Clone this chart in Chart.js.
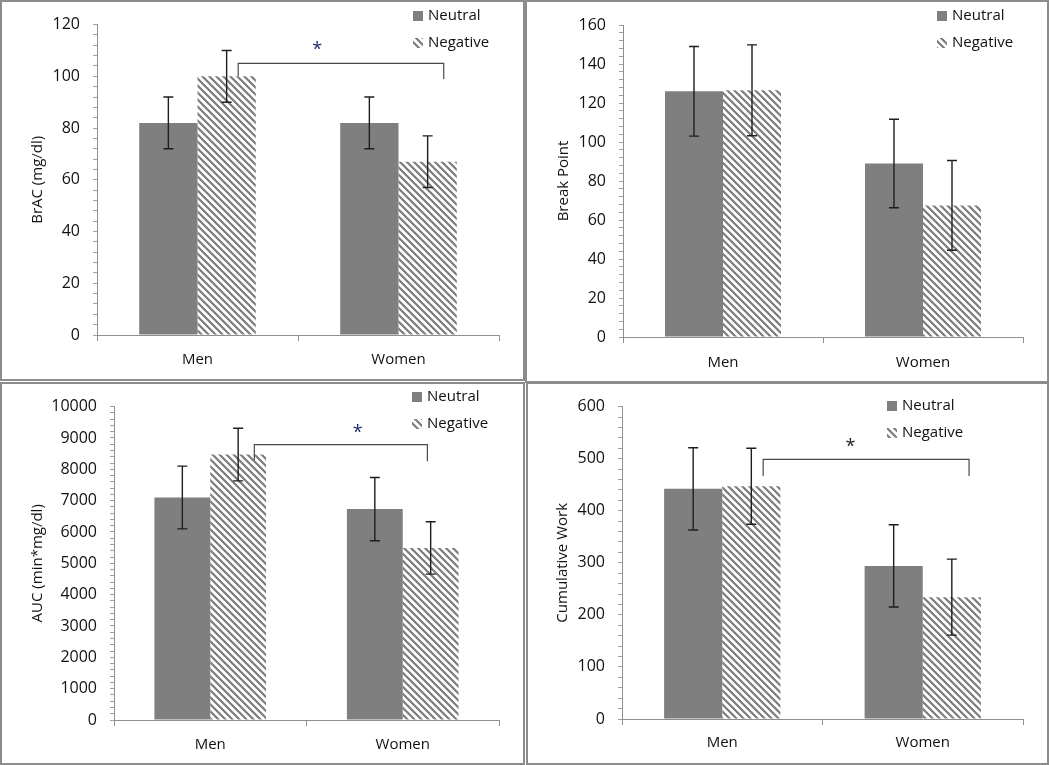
<!DOCTYPE html>
<html><head><meta charset="utf-8">
<script src="https://cdn.jsdelivr.net/npm/chart.js@4.4.1/dist/chart.umd.min.js"></script>
<style>
html,body{margin:0;padding:0;background:#fff;width:1050px;height:765px;overflow:hidden}
.panel{position:absolute;box-sizing:border-box;border:2px solid #8c8c8c;background:#fff}
.panel canvas{display:block}
</style></head><body>
<div class="panel" style="left:0;top:0;width:525px;height:381px"><canvas id="c1" width="521" height="377"></canvas></div>
<div class="panel" style="left:525px;top:0;width:524px;height:383px"><canvas id="c2" width="520" height="379"></canvas></div>
<div class="panel" style="left:0;top:382px;width:525px;height:383px"><canvas id="c3" width="521" height="379"></canvas></div>
<div class="panel" style="left:526px;top:382px;width:523px;height:383px"><canvas id="c4" width="519" height="379"></canvas></div>
<script>
// ---- data ----
const categories = ['Men', 'Women'];
const seriesNames = ['Neutral', 'Negative'];

const bracNeutral = [82, 82];
const bracNegative = [100, 67];
const bracNeutralErr = [10, 10];
const bracNegativeErr = [10, 10];
const bracTicks = [0, 20, 40, 60, 80, 100, 120];

const bpNeutral = [126, 89];
const bpNegative = [126.5, 67.5];
const bpNeutralErr = [23, 22.7];
const bpNegativeErr = [23.3, 23];
const bpTicks = [0, 20, 40, 60, 80, 100, 120, 140, 160];

const aucNeutral = [7100, 6730];
const aucNegative = [8470, 5490];
const aucNeutralErr = [1000, 1010];
const aucNegativeErr = [840, 835];
const aucTicks = [0, 1000, 2000, 3000, 4000, 5000, 6000, 7000, 8000, 9000, 10000];

const cwNeutral = [442, 294];
const cwNegative = [447, 234];
const cwNeutralErr = [79, 79];
const cwNegativeErr = [73, 73];
const cwTicks = [0, 100, 200, 300, 400, 500, 600];

// ---- styles ----
const FONT = '"Open Sans", "Liberation Sans", sans-serif';
const TEXT = '#111111';
const NEUTRAL = '#7f7f7f';
const AXIS = '#8f8f8f';

function makeHatch() {
  const s = 7;
  const c = document.createElement('canvas');
  c.width = s; c.height = s;
  const g = c.getContext('2d');
  g.fillStyle = '#ffffff'; g.fillRect(0, 0, s, s);
  g.strokeStyle = '#7c7c7c'; g.lineWidth = 2.2;
  g.beginPath();
  g.moveTo(-1, -1); g.lineTo(s + 1, s + 1);
  g.moveTo(-1, s - 1); g.lineTo(1, s + 1);
  g.moveTo(s - 1, -1); g.lineTo(s + 1, 1);
  g.stroke();
  return document.createElement('canvas').getContext('2d').createPattern(c, 'repeat');
}
const HATCH = makeHatch();

const decor = {
  id: 'decor',
  afterDatasetsDraw(chart, args, o) {
    const ctx = chart.ctx, xs = chart.scales.x, ys = chart.scales.y;
    ctx.save();
    // error bars
    ctx.strokeStyle = '#1e1e1e'; ctx.lineWidth = 1.4;
    chart.data.datasets.forEach((ds, di) => {
      const meta = chart.getDatasetMeta(di);
      meta.data.forEach((bar, i) => {
        const v = ds.data[i], e = ds.errors[i];
        const yt = ys.getPixelForValue(v + e), yb = ys.getPixelForValue(v - e);
        const x = bar.x, hw = 5;
        ctx.beginPath();
        ctx.moveTo(x, yt); ctx.lineTo(x, yb);
        ctx.moveTo(x - hw, yt); ctx.lineTo(x + hw, yt);
        ctx.moveTo(x - hw, yb); ctx.lineTo(x + hw, yb);
        ctx.stroke();
      });
    });
    // significance bracket
    if (o.bracket) {
      const b = o.bracket;
      const x1 = xs.getPixelForValue(b.from), x2 = xs.getPixelForValue(b.to);
      const yt = ys.getPixelForValue(b.top);
      ctx.strokeStyle = '#4a4a4a'; ctx.lineWidth = 1.2;
      ctx.beginPath();
      ctx.moveTo(x1, ys.getPixelForValue(b.leftEnd)); ctx.lineTo(x1, yt);
      ctx.lineTo(x2, yt); ctx.lineTo(x2, ys.getPixelForValue(b.rightEnd));
      ctx.stroke();
      ctx.fillStyle = b.starColor;
      ctx.font = '18px ' + FONT;
      ctx.textAlign = 'center'; ctx.textBaseline = 'middle';
      ctx.fillText('*', xs.getPixelForValue(b.starX), ys.getPixelForValue(b.starY) + 3);
    }
    ctx.restore();
  },
  afterDraw(chart, args, o) {
    const L = o.legend; if (!L) return;
    const ctx = chart.ctx;
    ctx.save();
    const ds = chart.data.datasets;
    const ys = [L.y1, L.y2];
    ds.forEach((d, i) => {
      ctx.fillStyle = d.backgroundColor;
      ctx.fillRect(L.x, ys[i] - 5, 10, 10);
      ctx.fillStyle = TEXT;
      ctx.font = '15px ' + FONT;
      ctx.textAlign = 'left'; ctx.textBaseline = 'middle';
      ctx.fillText(d.label, L.x + 15, ys[i]);
    });
    ctx.restore();
  }
};

function build(cfg) {
  const canvas = document.getElementById(cfg.id);
  const W = canvas.width, H = canvas.height;
  const a = cfg.area;
  const padLeft = cfg.titleX - 13;
  new Chart(canvas, {
    type: 'bar',
    data: {
      labels: categories,
      datasets: [
        { label: seriesNames[0], data: cfg.neutral, errors: cfg.neutralErr, backgroundColor: NEUTRAL, borderWidth: 0 },
        { label: seriesNames[1], data: cfg.negative, errors: cfg.negativeErr, backgroundColor: HATCH, borderWidth: 0 }
      ]
    },
    options: {
      responsive: false,
      animation: false,
      events: [],
      layout: { padding: { left: padLeft, top: a.top, right: W - a.right, bottom: 0 } },
      datasets: { bar: { categoryPercentage: 0.58, barPercentage: 1.0 } },
      plugins: {
        legend: { display: false },
        tooltip: { enabled: false },
        decor: { legend: cfg.legend, bracket: cfg.bracket }
      },
      scales: {
        x: {
          afterFit: (s) => { s.height = H - a.bottom; },
          border: { display: true, color: AXIS, width: 1 },
          grid: { display: true, drawOnChartArea: false, drawTicks: true, tickLength: 6, color: AXIS, tickColor: AXIS, offset: true },
          ticks: { color: TEXT, font: { family: FONT, size: 15 }, padding: cfg.labelOffset - 6 - 7 }
        },
        y: {
          min: 0, max: cfg.ticks[cfg.ticks.length - 1],
          afterFit: (s) => { s.width = a.left - padLeft; },
          border: { display: true, color: AXIS, width: 1 },
          grid: { display: true, drawOnChartArea: false, drawTicks: true, tickLength: 4, color: AXIS, tickColor: '#a0a0a0' },
          ticks: {
            stepSize: cfg.minor, maxTicksLimit: 200, autoSkip: false,
            color: TEXT, font: { family: FONT, size: 16 }, padding: 13,
            callback: (v) => cfg.ticks.includes(v) ? String(v) : ''
          },
          title: { display: true, text: cfg.yTitle, color: TEXT, font: { family: FONT, size: 15 }, padding: { top: 4, bottom: 4 } }
        }
      }
    },
    plugins: [decor]
  });
}

build({
  id: 'c1', yTitle: 'BrAC (mg/dl)', ticks: bracTicks, minor: 4,
  neutral: bracNeutral, negative: bracNegative, neutralErr: bracNeutralErr, negativeErr: bracNegativeErr,
  area: { left: 95, top: 21, right: 497, bottom: 333 }, titleX: 36, labelOffset: 23,
  legend: { x: 411, y1: 14, y2: 41 },
  bracket: { from: 0.2025, to: 1.225, top: 105, leftEnd: 100, rightEnd: 99, starX: 0.596, starY: 111.5, starColor: '#1f2d6b' }
});
build({
  id: 'c2', yTitle: 'Break Point', ticks: bpTicks, minor: 4,
  neutral: bpNeutral, negative: bpNegative, neutralErr: bpNeutralErr, negativeErr: bpNegativeErr,
  area: { left: 96, top: 23, right: 496, bottom: 335 }, titleX: 37, labelOffset: 24,
  legend: { x: 410, y1: 14, y2: 41 }
});
build({
  id: 'c3', yTitle: 'AUC (min*mg/dl)', ticks: aucTicks, minor: 200,
  neutral: aucNeutral, negative: aucNegative, neutralErr: aucNeutralErr, negativeErr: aucNegativeErr,
  area: { left: 112, top: 21, right: 497, bottom: 336 }, titleX: 36, labelOffset: 23,
  legend: { x: 410, y1: 13, y2: 40 },
  bracket: { from: 0.229, to: 1.128, top: 8784, leftEnd: 8295, rightEnd: 8254, starX: 0.766, starY: 9270, starColor: '#1f2d6b' }
});
build({
  id: 'c4', yTitle: 'Cumulative Work', ticks: cwTicks, minor: 20,
  neutral: cwNeutral, negative: cwNegative, neutralErr: cwNeutralErr, negativeErr: cwNegativeErr,
  area: { left: 94, top: 22, right: 495, bottom: 335 }, titleX: 35, labelOffset: 22,
  legend: { x: 359, y1: 22, y2: 49 },
  bracket: { from: 0.204, to: 1.231, top: 498.5, leftEnd: 466.5, rightEnd: 466.5, starX: 0.639, starY: 528.6, starColor: '#222222' }
});
</script>
</body></html>
